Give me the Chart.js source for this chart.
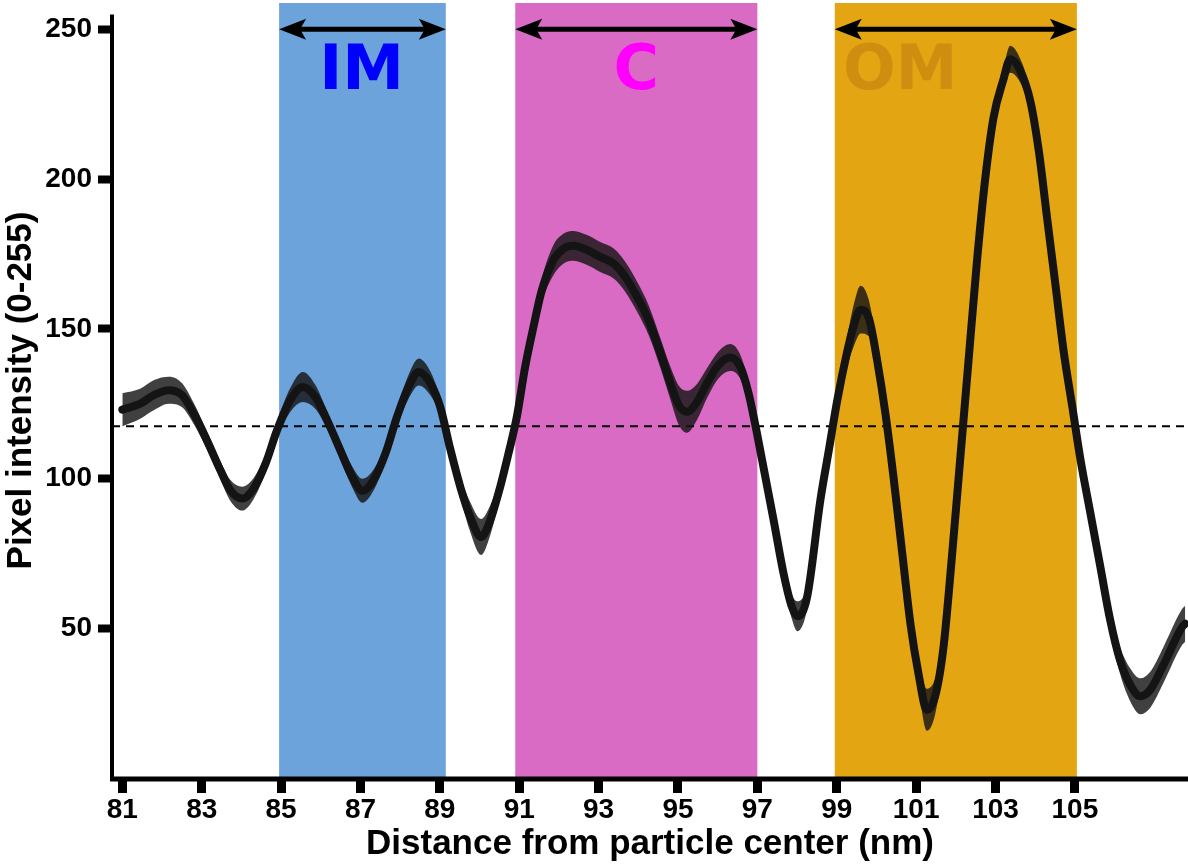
<!DOCTYPE html>
<html>
<head>
<meta charset="utf-8">
<script src="https://cdn.jsdelivr.net/npm/chart.js@4.4.1/dist/chart.umd.min.js"></script>
<style>
  html, body { margin: 0; padding: 0; background: #ffffff; }
  canvas { display: block; }
</style>
</head>
<body>
<canvas id="profile" width="1188" height="865"></canvas>
<script>
// Radial intensity profile: distance from particle center (nm) vs mean pixel intensity
const distance = [
  81.0, 81.45, 81.8, 82.17, 82.5, 82.8, 83.13, 83.47, 83.72, 84.02,
  84.31, 84.61, 84.9, 85.23, 85.55, 85.86, 86.16, 86.49, 86.79, 87.05,
  87.33, 87.63, 87.92, 88.21, 88.47, 88.76, 89.01, 89.26, 89.52, 89.77,
  90.04, 90.27, 90.52, 90.73, 90.94, 91.15, 91.36, 91.57, 91.86, 92.12,
  92.37, 92.71, 93.04, 93.38, 93.67, 93.97, 94.26, 94.56, 94.81, 95.02,
  95.23, 95.48, 95.73, 96.02, 96.32, 96.57, 96.78, 96.99, 97.2, 97.41,
  97.66, 97.87, 98.01, 98.25, 98.59, 98.8, 99.01, 99.26, 99.43, 99.6,
  99.81, 100.02, 100.23, 100.43, 100.65, 100.86, 101.06, 101.27, 101.48, 101.69,
  101.9, 102.11, 102.32, 102.53, 102.74, 102.95, 103.2, 103.37, 103.62, 103.88,
  104.09, 104.3, 104.51, 104.72, 104.93, 105.14, 105.39, 105.64, 105.89, 106.14,
  106.4, 106.65, 106.9, 107.23, 107.7, 107.78
];
const intensity = [
  123, 125, 127.9, 129.5, 127.9, 121.7, 112.8, 102.8, 96.1, 93.3,
  96.7, 105, 116.2, 126.2, 130.6, 127.3, 119.5, 109.5, 100.6, 95.9,
  99.5, 108.4, 120.6, 130.6, 135.6, 131.8, 123.9, 110, 97, 87,
  80.5, 86.1, 97.2, 108.4, 120.6, 137.3, 150.7, 162.9, 172.9, 176.8,
  177.7, 176.3, 174.0, 171.8, 167.4, 160.7, 152.9, 141.8, 131.8, 124.5,
  122.3, 125.6, 131.8, 137.9, 140.4, 137.3, 128.4, 115.1, 100.6, 86.1,
  68.3, 57.1, 54.0, 60.2, 93.0, 109.4, 125.9, 142.2, 151.2, 156.4,
  153.5, 139.3, 121.4, 100.5, 75.1, 51.2, 34.8, 22.8, 27.3, 43.7,
  73.6, 106.4, 139.3, 172.1, 200.0, 220.5, 233.3, 240.0, 236.3, 225.9,
  209.5, 187.0, 164.7, 142.2, 124.4, 106.4, 88.5, 70.6, 52.7, 39.2,
  31.0, 27.3, 29.5, 37.7, 50.4, 51.5
];
// half-width of the error ribbon around the mean profile
const spread = [
  5.5, 5, 5, 4.5, 4, 3.5, 3, 3, 3.5, 4,
  3.5, 3, 3, 4, 5, 4, 3, 3, 3.5, 4,
  3.5, 3, 3, 4, 4.5, 4, 3, 3, 3.5, 5,
  6, 5, 3.5, 3, 3, 3, 3.5, 4, 5, 5,
  5, 5, 5, 5, 5, 5, 5, 5, 5.5, 6.5,
  7, 6, 5, 4.5, 4.5, 4, 3.5, 3, 3, 3,
  3, 4, 5, 4, 3, 3, 3.5, 5, 7, 8,
  6, 4, 3, 3, 3, 3.5, 5, 7, 6, 4,
  3, 3, 3, 3, 3, 3.5, 4, 4.5, 4, 3.5,
  3, 3, 3, 3, 3, 3, 3, 3, 3.5, 4.5,
  5.5, 6, 6, 6, 6, 6
];

const xTicks = [81, 83, 85, 87, 89, 91, 93, 95, 97, 99, 101, 103, 105];
const yTicks = [50, 100, 150, 200, 250];

// membrane layers: inner membrane, cortex, outer membrane
const regionNames = ['IM', 'C', 'OM'];
const regionStart = [84.95, 90.9, 98.95];
const regionEnd = [89.15, 97.0, 105.05];
const regionLabelX = [87.03, 93.95, 100.6];
const regionFill = ['#6ca3db', '#da6bc4', '#e4a513'];
const regionText = ['#0000ff', '#ff00ff', '#cf8e10'];

const arrowLevel = 250;
const labelLevel = 230;
const threshold = 117.5;
const axisTop = 255;

const FONT = '"Liberation Sans", Arial, Helvetica, sans-serif';

function arrowHead(ctx, tipX, yy, dir) {
  const len = 27, half = 10.5, notch = 21;
  ctx.beginPath();
  ctx.moveTo(tipX, yy);
  ctx.lineTo(tipX + dir * len, yy - half);
  ctx.lineTo(tipX + dir * notch, yy);
  ctx.lineTo(tipX + dir * len, yy + half);
  ctx.closePath();
  ctx.fill();
}

const overlay = {
  id: 'overlay',
  beforeDatasetsDraw(chart) {
    const { ctx, chartArea: a, scales: { x, y } } = chart;
    ctx.save();
    // shaded layers
    regionNames.forEach((name, i) => {
      const x0 = x.getPixelForValue(regionStart[i]);
      const x1 = x.getPixelForValue(regionEnd[i]);
      ctx.fillStyle = regionFill[i];
      ctx.fillRect(x0, a.top, x1 - x0, a.bottom - a.top);
    });
    // threshold line
    const ty = y.getPixelForValue(threshold);
    ctx.strokeStyle = '#000';
    ctx.lineWidth = 2;
    ctx.setLineDash([8, 6]);
    ctx.beginPath();
    ctx.moveTo(a.left, ty);
    ctx.lineTo(a.right, ty);
    ctx.stroke();
    ctx.setLineDash([]);
    // double-headed width arrows
    const ay = y.getPixelForValue(arrowLevel);
    ctx.fillStyle = '#000';
    ctx.lineWidth = 5;
    regionNames.forEach((name, i) => {
      const x0 = x.getPixelForValue(regionStart[i]);
      const x1 = x.getPixelForValue(regionEnd[i]);
      ctx.beginPath();
      ctx.moveTo(x0 + 18, ay);
      ctx.lineTo(x1 - 18, ay);
      ctx.stroke();
      arrowHead(ctx, x0, ay, 1);
      arrowHead(ctx, x1, ay, -1);
    });
    // layer names
    ctx.font = 'bold 62px "DejaVu Sans", sans-serif';
    ctx.textAlign = 'center';
    ctx.textBaseline = 'alphabetic';
    const ly = y.getPixelForValue(labelLevel);
    regionNames.forEach((name, i) => {
      ctx.fillStyle = regionText[i];
      ctx.fillText(name, x.getPixelForValue(regionLabelX[i]), ly);
    });
    ctx.restore();
  },
  afterDraw(chart) {
    const { ctx, chartArea: a, scales: { y } } = chart;
    ctx.save();
    ctx.strokeStyle = '#000';
    ctx.lineCap = 'butt';
    // y axis line stops at the top of the intensity range
    ctx.lineWidth = 4;
    ctx.beginPath();
    ctx.moveTo(a.left, y.getPixelForValue(axisTop));
    ctx.lineTo(a.left, a.bottom + 3);
    ctx.stroke();
    // x axis line
    ctx.lineWidth = 5;
    ctx.beginPath();
    ctx.moveTo(a.left - 2, a.bottom + 1);
    ctx.lineTo(a.right, a.bottom + 1);
    ctx.stroke();
    ctx.restore();
  }
};

const common = { pointRadius: 0, cubicInterpolationMode: 'monotone' };

new Chart(document.getElementById('profile'), {
  type: 'line',
  data: {
    datasets: [
      Object.assign({
        label: 'upper',
        data: distance.map((d, i) => ({ x: d, y: intensity[i] + spread[i] })),
        fill: '+1',
        backgroundColor: 'rgba(22,22,22,0.82)',
        borderWidth: 0,
        order: 2
      }, common),
      Object.assign({
        label: 'lower',
        data: distance.map((d, i) => ({ x: d, y: intensity[i] - spread[i] })),
        fill: false,
        borderWidth: 0,
        order: 2
      }, common),
      Object.assign({
        label: 'Mean intensity',
        data: distance.map((d, i) => ({ x: d, y: intensity[i] })),
        fill: false,
        borderColor: '#141414',
        borderWidth: 8,
        borderJoinStyle: 'round',
        borderCapStyle: 'round',
        order: 1
      }, common)
    ]
  },
  options: {
    responsive: false,
    animation: false,
    devicePixelRatio: 1,
    layout: { padding: { top: 3, right: 0, left: 0, bottom: 0 } },
    plugins: { legend: { display: false }, tooltip: { enabled: false } },
    scales: {
      x: {
        type: 'linear',
        min: 80.74,
        max: 107.85,
        afterBuildTicks: s => { s.ticks = xTicks.map(v => ({ value: v })); },
        afterFit: s => { s.height = 87; s.paddingLeft = 0; s.paddingRight = 0; },
        grid: { display: true, drawOnChartArea: false, drawTicks: true, tickLength: 15, tickWidth: 9, tickColor: '#000' },
        border: { display: false },
        ticks: { autoSkip: false, maxRotation: 0, padding: 0, color: '#000', font: { family: FONT, size: 28, weight: 'bold' } },
        title: {
          display: true,
          text: 'Distance from particle center (nm)',
          color: '#000',
          font: { family: FONT, size: 35, weight: 'bold', lineHeight: 1 },
          padding: { top: 0, bottom: 3 }
        }
      },
      y: {
        type: 'linear',
        min: 0,
        max: 258.8,
        afterBuildTicks: s => { s.ticks = yTicks.map(v => ({ value: v })); },
        afterFit: s => { s.width = 112; s.paddingTop = 0; s.paddingBottom = 0; },
        grid: { display: true, drawOnChartArea: false, drawTicks: true, tickLength: 14, tickWidth: 8, tickColor: '#000' },
        border: { display: false },
        ticks: { padding: 6, color: '#000', font: { family: FONT, size: 28, weight: 'bold' } },
        title: {
          display: true,
          text: 'Pixel intensity (0-255)',
          color: '#000',
          font: { family: FONT, size: 35, weight: 'bold', lineHeight: 1 },
          padding: { top: 3.5, bottom: 0 }
        }
      }
    }
  },
  plugins: [overlay]
});
</script>
</body>
</html>
